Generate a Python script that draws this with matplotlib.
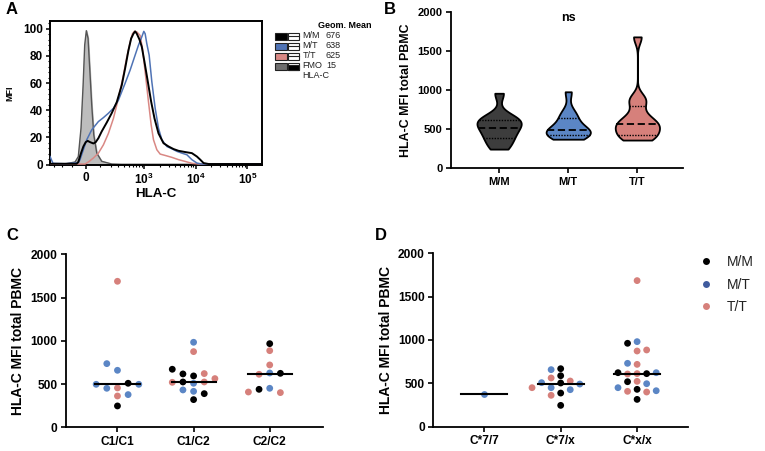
import numpy as np
import matplotlib
matplotlib.use("Agg")
import matplotlib.pyplot as plt
from matplotlib import cbook, mlab
from matplotlib.patches import Rectangle
from matplotlib.lines import Line2D
from matplotlib.ticker import FixedLocator

plt.rcParams['font.family'] = ['Liberation Sans', 'DejaVu Sans']
plt.rcParams['mathtext.fontset'] = 'custom'
plt.rcParams['mathtext.rm'] = 'Liberation Sans:bold'
plt.rcParams['mathtext.bf'] = 'Liberation Sans:bold'

# colours
BLACK = '#000000'
BLUE = '#5B86C5'
PINK = '#D6807B'
GENO_COL = {'M/M': BLACK, 'M/T': BLUE, 'T/T': PINK}

# ---- Panel A: HLA-C histograms (intensity, % of max) ----
fmo_x = [-361, -164, -77, -53, -34, -20, -9, 2, 13.5, 24.8, 38.6, 53, 75, 114, 214, 356, 192000]
fmo_y = [0.5, 0.5, 2, 6, 27, 58, 88, 98.5, 93, 71, 44, 22, 8.5, 2.5, 0.5, 0.3, 0.3]

mm_x = [-361, -65, -53, -34, -18, -2.2, 11.2, 27.1, 50.3, 67.2, 87.4, 114, 160, 214, 277.6, 356,
        417, 488, 552.8, 615.5, 664, 717, 809.5, 900, 1015, 1180, 1371, 1592, 1904, 2381, 2980,
        3724, 4656, 6271, 8441, 10555, 12246, 14210, 17773, 192000]
mm_y = [0.7, 0.7, 2, 8.5, 13.4, 16.6, 17.5, 16.6, 15.6, 16.6, 19.5, 24.4, 31, 38, 46, 58.5,
        70.7, 84, 92.7, 96.3, 98, 96.3, 92, 86.6, 75.6, 61, 46.3, 34, 23, 15.8, 13.4,
        11.5, 10.2, 9.3, 8.5, 6, 3.7, 1.2, 0.5, 0.5]

mt_x = [-361, -312, -164, -53, -41, -18, 4.5, 38.6, 87.4, 128.9, 176.7, 233.5, 302, 417, 527.6,
        664, 773, 900, 985, 1046, 1127, 1253, 1412, 1640, 1904, 2211, 2765, 3457, 4322, 5404,
        6757, 8441, 10555, 13197, 192000]
mt_y = [6, 1, 0.7, 1.5, 3.7, 11, 18.3, 25.6, 31.7, 34.6, 37.8, 41.5, 47.5, 59.8, 69.5,
        80.5, 87.8, 94, 98, 96.3, 89, 80.5, 61, 41.5, 26.8, 18.3, 13.4, 11.7, 9.8, 8.5,
        7.3, 3.7, 1.2, 0.5, 0.5]

tt_x = [-361, -6.7, 15.7, 50.3, 87.4, 128.9, 176.7, 233.5, 302, 385.4, 451.6, 527.6, 588, 644,
        717, 834, 927, 1046, 1215, 1371, 1522, 1767, 2052, 2566, 3457, 4656, 6271, 8441, 11370,
        192000]
tt_y = [0.5, 0.5, 2, 4.9, 8.5, 14.6, 23, 34, 48.8, 65.9, 79, 90, 96.3, 98,
        97.6, 95, 85.4, 68.3, 46.3, 29.3, 18.3, 11, 7.8, 6.8, 5.4, 3.7, 2.4, 1, 0.5,
        0.5]

legend_a_names = ['M/M', 'M/T', 'T/T', 'FMO']
legend_a_means = ['676', '638', '625', '15']

# ---- Panel C: grouped by C1/C2 ----
c_cats = ['C1/C1', 'C1/C2', 'C2/C2']
c_vals = [
    [1688, 659, 736, 455, 451, 509, 497, 497, 362, 378, 247],
    [983, 875, 594, 617, 621, 671, 524, 524, 520, 509, 563, 432, 416, 389, 320],
    [967, 886, 721, 628, 613, 624, 451, 439, 401, 408],
]
c_geno = [
    ['T/T', 'M/T', 'M/T', 'T/T', 'M/T', 'M/M', 'M/T', 'M/T', 'T/T', 'M/T', 'M/M'],
    ['M/T', 'T/T', 'M/M', 'M/M', 'T/T', 'M/M', 'M/M', 'T/T', 'T/T', 'M/T', 'T/T', 'M/T', 'M/T',
     'M/M', 'M/M'],
    ['M/M', 'T/T', 'T/T', 'M/T', 'T/T', 'M/M', 'M/T', 'M/M', 'T/T', 'T/T'],
]

# ---- Panel D: grouped by C*7 ----
d_cats = ['C*7/7', 'C*7/x', 'C*x/x']
d_vals = [
    [373],
    [669, 658, 588, 562, 527, 504, 508, 492, 450, 450, 427, 388, 362, 246],
    [1685, 981, 962, 873, 885, 719, 731, 612, 608, 612, 623, 623, 523, 519, 496, 450, 431,
     408, 400, 415, 315],
]
d_geno = [
    ['M/T'],
    ['M/M', 'M/T', 'M/M', 'T/T', 'T/T', 'M/M', 'M/T', 'M/T', 'M/T', 'T/T', 'M/T', 'M/M',
     'T/T', 'M/M'],
    ['T/T', 'M/T', 'M/M', 'T/T', 'T/T', 'T/T', 'M/T', 'T/T', 'T/T', 'M/M', 'M/M', 'M/T',
     'T/T', 'M/M', 'M/T', 'M/T', 'M/M', 'T/T', 'T/T', 'M/T', 'M/M'],
]

# ---- Panel B: violins by rs genotype (from the same samples) ----
b_cats = ['M/M', 'M/T', 'T/T']
b_cols = ['#3d3d3d', BLUE, PINK]
b_vals = []
for g in b_cats:
    b_vals.append([v for vals, gs in zip(d_vals, d_geno) for v, gg in zip(vals, gs) if gg == g])

W, H = 765, 451
fig = plt.figure(figsize=(W / 100, H / 100), dpi=100)


def px_axes(l, t, r, b):
    return fig.add_axes([l / W, 1 - b / H, (r - l) / W, (b - t) / H])


def ftext(x, y, s, **kw):
    fig.text(x / W, 1 - y / H, s, **kw)


def swarm(vals, thresh=80, step=0.14):
    # simple greedy beeswarm: put each dot in the first free column
    placed = []
    offs = []
    for v in vals:
        slot = 0
        for s in [0, -1, 1, -2, 2, -3, 3, -4, 4]:
            if all(not (ps == s and abs(pv - v) < thresh) for pv, ps in placed):
                slot = s
                break
        placed.append((v, slot))
        offs.append(slot * step)
    return np.array(offs)


# ================= A =================
axA = px_axes(50, 21.3, 262, 164.7)
C0 = 151.0
axA.set_xscale('function', functions=(lambda x: np.arcsinh(np.asarray(x) / C0),
                                      lambda y: C0 * np.sinh(np.asarray(y))))
axA.fill_between(fmo_x, fmo_y, 0, color='#BDBDBD', zorder=1)
axA.plot(fmo_x, fmo_y, color='#555555', lw=1.0, zorder=2)
axA.plot(tt_x, tt_y, color='#D98884', lw=1.1, zorder=3)
axA.plot(mt_x, mt_y, color='#4F73B5', lw=1.1, zorder=4)
axA.plot(mm_x, mm_y, color=BLACK, lw=1.4, zorder=5)
axA.set_xlim(-361, 192000)
axA.set_ylim(0, 105.4)
axA.set_xticks([0, 1e3, 1e4, 1e5])
axA.set_xticklabels(['0', r'$\mathbf{10^{3}}$', r'$\mathbf{10^{4}}$', r'$\mathbf{10^{5}}$'],
                    fontsize=8, fontweight='bold')
minor_x = [-300, -200, -100] + [k * 100 for k in range(1, 10)] + [k * 1000 for k in range(2, 10)] \
    + [k * 10000 for k in range(2, 10)] + [2e5]
axA.xaxis.set_minor_locator(FixedLocator(minor_x))
axA.set_yticks([0, 20, 40, 60, 80, 100])
axA.yaxis.set_minor_locator(FixedLocator(np.arange(0, 105, 4)))
axA.tick_params(axis='both', which='major', direction='out', length=3, width=1.1,
                labelsize=8.5, pad=2)
axA.tick_params(axis='both', which='minor', direction='out', length=1.6, width=0.8)
for lab in axA.get_yticklabels():
    lab.set_fontweight('bold')
for sp in axA.spines.values():
    sp.set_linewidth(1.4)
axA.set_xlabel('HLA-C', fontsize=9.6, fontweight='bold', labelpad=1)
axA.set_ylabel('MFI', fontsize=6.5, fontweight='bold', labelpad=6)

# panel A legend
ftext(318, 25, 'Geom. Mean', fontsize=6.5, fontweight='bold', va='center')
sw_cols = [BLACK, '#4F73B5', '#D98884', '#6E6E6E']
for i, (name, mean) in enumerate(zip(legend_a_names, legend_a_means)):
    yc = 36 + 10 * i
    fig.add_artist(Rectangle((275 / W, 1 - (yc + 3.5) / H), 11.7 / W, 7 / H,
                             transform=fig.transFigure, facecolor=sw_cols[i],
                             edgecolor='#222222', lw=0.8))
    fig.add_artist(Rectangle((288.3 / W, 1 - (yc + 3.5) / H), 11 / W, 7 / H,
                             transform=fig.transFigure, facecolor='white',
                             edgecolor='#222222', lw=0.8))
    if name == 'FMO':
        fig.add_artist(Rectangle((288.3 / W, 1 - (yc + 3.5) / H), 11 / W, 4.2 / H,
                                 transform=fig.transFigure, facecolor=BLACK,
                                 edgecolor='#222222', lw=0.8))
    else:
        fig.add_artist(Line2D([288.3 / W, 299.3 / W], [1 - yc / H, 1 - yc / H],
                              transform=fig.transFigure, color='#222222', lw=0.8))
    ftext(302.5, yc, name, fontsize=6.5, va='center', color='#222222')
    ftext(326, yc, mean, fontsize=6.5, va='center', color='#222222')
ftext(302.5, 75.5, 'HLA-C', fontsize=6.5, va='center', color='#222222')


def style_dot_axes(ax, cats, xlim, ylab, labsize, ticksize, catsize):
    ax.set_xlim(*xlim)
    ax.set_ylim(0, 2000)
    ax.set_xticks(range(len(cats)))
    ax.set_xticklabels(cats, fontsize=catsize, fontweight='bold')
    ax.set_yticks([0, 500, 1000, 1500, 2000])
    ax.tick_params(axis='both', direction='out', length=3.5, width=1.2,
                   labelsize=ticksize, pad=2.5)
    for lab in ax.get_yticklabels():
        lab.set_fontweight('bold')
    for s in ['top', 'right']:
        ax.spines[s].set_visible(False)
    for s in ['left', 'bottom']:
        ax.spines[s].set_linewidth(1.3)
    ax.set_ylabel(ylab, fontsize=labsize, fontweight='bold', labelpad=4)


# ================= B =================
axB = px_axes(450.7, 12.3, 683, 168.3)
BW = 85.0


def kde(X, coords):
    k = mlab.GaussianKDE(X, lambda kd: BW / np.std(kd.dataset, ddof=1))
    return k.evaluate(coords)


stats = cbook.violin_stats(b_vals, kde, points=300)
vwidth = 0.64
parts = axB.violin(stats, positions=range(3), widths=vwidth, showextrema=False)
for body, col in zip(parts['bodies'], b_cols):
    body.set_facecolor(col)
    body.set_edgecolor(BLACK)
    body.set_linewidth(1.3)
    body.set_alpha(1)
for i, st in enumerate(stats):
    scale = 0.5 * vwidth / st['vals'].max()
    qs = np.percentile(b_vals[i], [25, 50, 75], method='weibull')
    for q, ls in zip(qs, [(0, (1, 1)), (0, (4, 2)), (0, (1, 1))]):
        hw = np.interp(q, st['coords'], st['vals']) * scale
        axB.plot([i - hw, i + hw], [q, q], color=BLACK, lw=1.3 if ls[1][0] == 4 else 1.0,
                 linestyle=ls, zorder=3)
style_dot_axes(axB, b_cats, (-0.70, 2.66), 'HLA-C MFI total PBMC', 8.9, 8, 9.3)
axB.text(1, 1930, 'ns', ha='center', va='center', fontsize=9, fontweight='bold')

# ================= C =================
axC = px_axes(65.7, 254.3, 323, 427.3)
for i, (vals, gs) in enumerate(zip(c_vals, c_geno)):
    offs = swarm(vals)
    axC.scatter(i + offs, vals, s=24, c=[GENO_COL[g] for g in gs], linewidths=0, zorder=3,
                clip_on=False)
    med = np.median(vals)
    axC.plot([i - 0.29, i + 0.29], [med, med], color=BLACK, lw=1.5, zorder=4)
style_dot_axes(axC, c_cats, (-0.68, 2.70), 'HLA-C MFI total PBMC', 10, 8.6, 10)

# ================= D =================
axD = px_axes(433.3, 253.3, 688.3, 426.7)
for i, (vals, gs) in enumerate(zip(d_vals, d_geno)):
    offs = swarm(vals, step=0.125)
    axD.scatter(i + offs, vals, s=24, c=[GENO_COL[g] for g in gs], linewidths=0, zorder=3,
                clip_on=False)
    med = np.median(vals)
    axD.plot([i - 0.3, i + 0.3], [med, med], color=BLACK, lw=1.5, zorder=4)
style_dot_axes(axD, d_cats, (-0.667, 2.67), 'HLA-C MFI total PBMC', 10, 8.6, 10)

handles = [Line2D([], [], ls='none', marker='o', ms=5, mew=0, color=c)
           for c in [BLACK, '#3F5B9E', PINK]]
fig.legend(handles, b_cats, loc='upper left', bbox_to_anchor=(699 / W, 1 - 255 / H),
           frameon=False, fontsize=10, handlelength=1.0, handletextpad=1.0,
           labelspacing=0.62, borderpad=0, borderaxespad=0, labelcolor='#222222')

# panel letters
for lab, x, y in [('A', 12, 10), ('B', 390, 10), ('C', 12, 235), ('D', 381, 235)]:
    ftext(x, y, lab, fontsize=12, fontweight='bold', ha='center', va='center')

fig.savefig('out.png', dpi=100)
